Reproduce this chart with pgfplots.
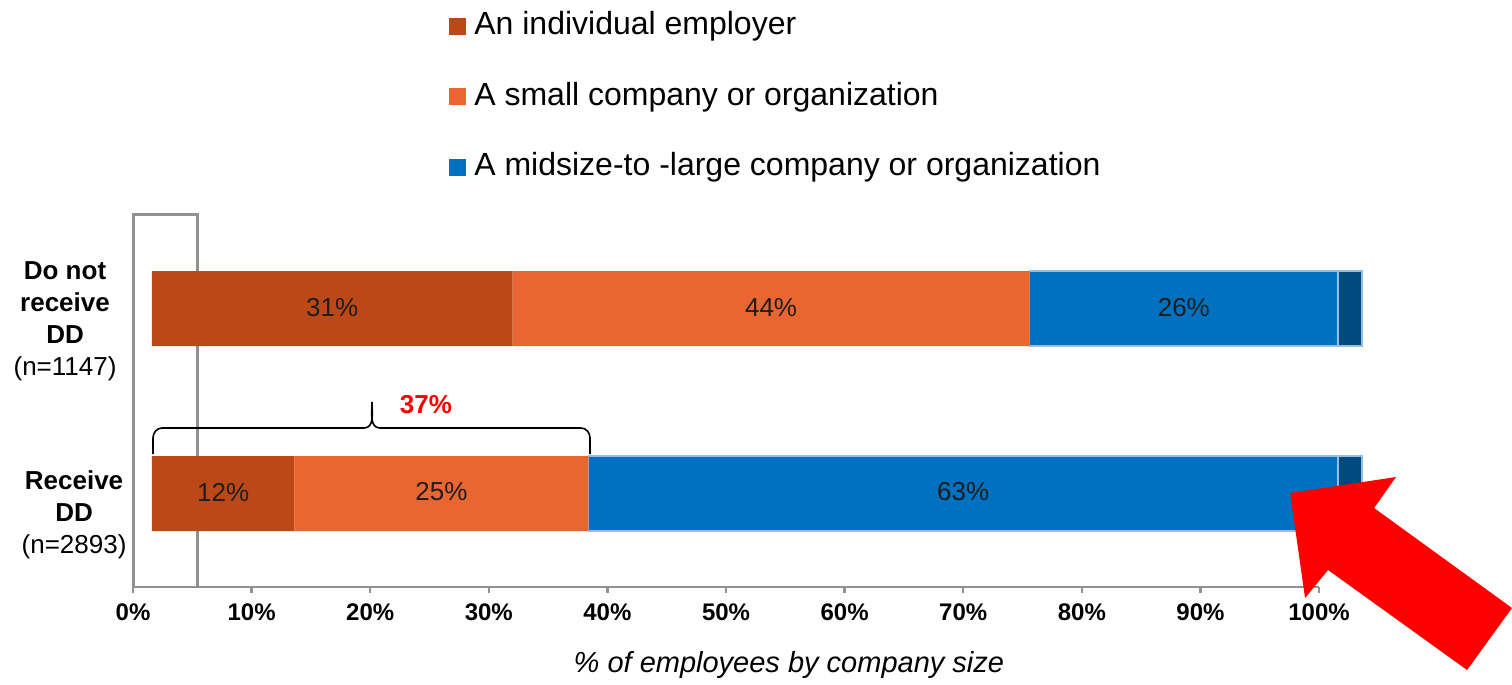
\documentclass[border=0pt]{standalone}
\usepackage{fontspec}
\setmainfont{Liberation Sans}
\usepackage{pgfplots}
\pgfplotsset{compat=1.18}

\definecolor{cIndiv}{RGB}{188,72,24}
\definecolor{cSmall}{RGB}{233,102,50}
\definecolor{cMid}{RGB}{0,112,192}
\definecolor{cNavy}{RGB}{0,74,128}
\definecolor{cEdge}{RGB}{150,190,225}
\definecolor{cFrame}{RGB}{145,145,145}
\definecolor{cText}{RGB}{30,30,30}

\pgfplotsset{base/.style={
  scale only axis, width=593pt, height=186pt,
  xmin=0, xmax=100, ymin=0, ymax=372, clip=false}}

\begin{document}
\begin{tikzpicture}
\begin{axis}[
  base,
  xbar stacked, bar width=37.5pt,
  axis x line*=bottom, axis y line=none,
  x axis line style={cFrame, line width=1.2pt},
  xtick={0,10,...,100},
  xticklabels={0\%,10\%,20\%,30\%,40\%,50\%,60\%,70\%,80\%,90\%,100\%},
  tick align=outside, major tick length=3pt,
  x tick style={cFrame, line width=1.2pt},
  x tick label style={font=\bfseries\fontsize{12}{14}\selectfont, black, yshift=-2pt},
  ytick=\empty,
  legend style={at={(0.2664,1.548)}, anchor=north west, draw=none, fill=none,
    inner sep=0pt, row sep=20.75pt, font=\fontsize{16}{18}\selectfont,
    nodes={inner sep=0pt, text height=11.5pt, text depth=3pt},
    /tikz/every odd column/.append style={column sep=4pt}},
  legend cell align=left,
  legend image code/.code={\fill[#1, draw=none] (0pt,-4.25pt) rectangle (8.5pt,4.25pt);},
]
\addplot[fill=none, draw=none, forget plot] coordinates {(1.6,278.5) (1.6,93.5)};
\addplot[fill=cIndiv, draw=none] coordinates {(30.4,278.5) (12.0,93.5)};
\addlegendentry{An individual employer}
\addplot[fill=cSmall, draw=none] coordinates {(43.6,278.5) (24.8,93.5)};
\addlegendentry{A small company or organization}
\addplot[fill=cMid, draw=cEdge, line width=0.8pt] coordinates {(26.0,278.5) (63.2,93.5)};
\addlegendentry{A midsize-to -large company or organization}
\addplot[fill=cNavy, draw=cEdge, line width=0.8pt, forget plot] coordinates {(2.0,278.5) (2.0,93.5)};

% grey frame, visible parts only
\draw[cFrame, line width=1.5pt] (axis cs:0,0) -- (axis cs:0,372) -- (axis cs:5.4,372) -- (axis cs:5.4,316);
\draw[cFrame, line width=1.5pt] (axis cs:5.4,241) -- (axis cs:5.4,131);
\draw[cFrame, line width=1.5pt] (axis cs:5.4,56) -- (axis cs:5.4,0);
\end{axis}

% annotations on top of the bars
\begin{axis}[base, hide axis]
\node[font=\fontsize{13}{15}\selectfont, text=cText] at (axis cs:16.8,279) {31\%};
\node[font=\fontsize{13}{15}\selectfont, text=cText] at (axis cs:53.8,279) {44\%};
\node[font=\fontsize{13}{15}\selectfont, text=cText] at (axis cs:88.6,279) {26\%};
\node[font=\fontsize{13}{15}\selectfont, text=cText] at (axis cs:7.6,95) {12\%};
\node[font=\fontsize{13}{15}\selectfont, text=cText] at (axis cs:26.0,95) {25\%};
\node[font=\fontsize{13}{15}\selectfont, text=cText] at (axis cs:70.0,95) {63\%};

\node[align=center, font=\fontsize{13}{16}\selectfont] at (axis cs:-5.73,266)
  {\textbf{Do not}\\\textbf{receive}\\\textbf{DD}\\(n=1147)};
\node[align=center, font=\fontsize{13}{16}\selectfont] at (axis cs:-4.97,72)
  {\textbf{Receive}\\\textbf{DD}\\(n=2893)};

\draw[line width=0.8pt] (axis cs:1.686,133) -- (axis cs:1.686,149)
  to[out=90,in=180] (axis cs:2.445,159) -- (axis cs:19.477,159)
  to[out=0,in=-90] (axis cs:20.152,185)
  to[out=-90,in=180] (axis cs:20.826,159) -- (axis cs:37.774,159)
  to[out=0,in=90] (axis cs:38.533,149) -- (axis cs:38.533,133);
\node[red, font=\bfseries\fontsize{13}{15}\selectfont] at (axis cs:24.7,182) {37\%};

\node[font=\itshape\fontsize{14.5}{17}\selectfont] at (axis cs:55.3,-78) {\% of employees by company size};

\fill[red] (axis cs:97.56,94) -- (axis cs:106.49,110) -- (axis cs:104.64,79)
  -- (axis cs:116.27,-21) -- (axis cs:112.48,-83) -- (axis cs:100.76,17)
  -- (axis cs:98.82,-11) -- cycle;

\coordinate (bbSW) at (axis cs:-11.214,-97);
\coordinate (bbNE) at (axis cs:116.27,587);
\end{axis}
\pgfresetboundingbox
\path[use as bounding box] (bbSW) rectangle (bbNE);
\end{tikzpicture}
\end{document}
